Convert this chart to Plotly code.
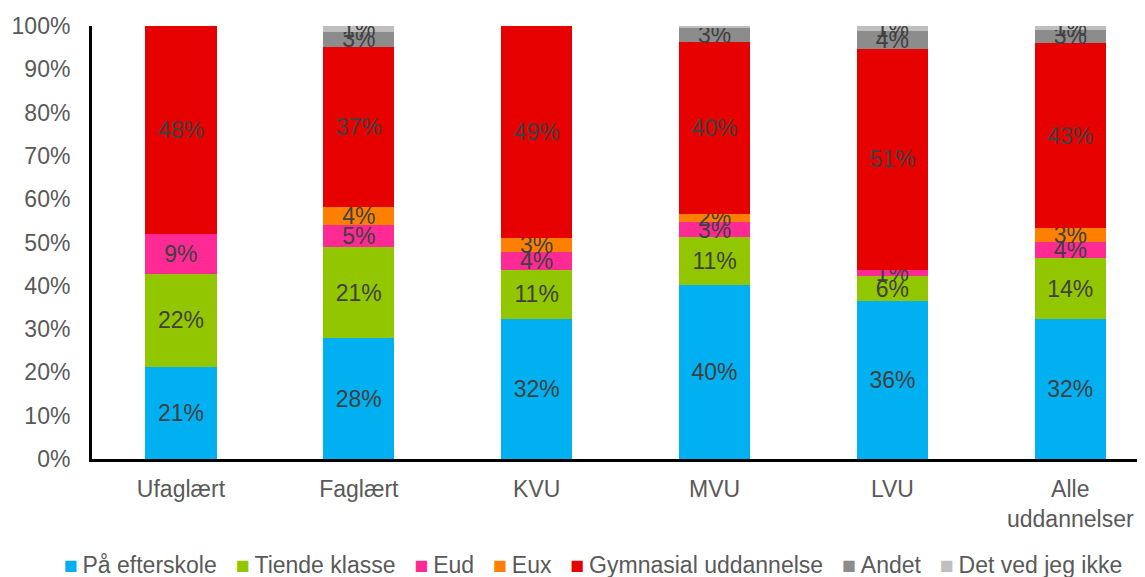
import plotly.graph_objects as go

categories = ["Ufaglært", "Faglært", "KVU", "MVU", "LVU", "Alle<br>uddannelser"]

series_names = [
    "På efterskole",
    "Tiende klasse",
    "Eud",
    "Eux",
    "Gymnasial uddannelse",
    "Andet",
    "Det ved jeg ikke",
]
series_colors = ["#00b0f0", "#92c700", "#ff2a93", "#ff8000", "#e60000", "#8c8c8c", "#bfbfbf"]

efterskole = [21.2, 27.9, 32.3, 40.2, 36.4, 32.3]
tiende = [21.6, 21.1, 11.4, 11.1, 5.9, 14.1]
eud = [9.2, 5.0, 4.1, 3.4, 1.4, 3.7]
eux = [0.0, 4.2, 3.2, 1.9, 0.0, 3.2]
gymnasial = [48.0, 37.0, 49.0, 39.7, 51.1, 42.8]
andet = [0.0, 3.4, 0.0, 3.4, 4.0, 3.0]
ved_ikke = [0.0, 1.4, 0.0, 0.3, 1.2, 0.9]

series_values = [efterskole, tiende, eud, eux, gymnasial, andet, ved_ikke]

y_ticks = [0, 10, 20, 30, 40, 50, 60, 70, 80, 90, 100]

FONT = "Liberation Sans, Arial"


def label(v):
    r = round(v)
    return f"{r}%" if r >= 1 else ""


fig = go.Figure()
for name, color, vals in zip(series_names, series_colors, series_values):
    fig.add_trace(
        go.Bar(
            x=categories,
            y=vals,
            name=name,
            marker=dict(color=color, line=dict(width=0)),
            text=[label(v) for v in vals],
            textposition="inside",
            insidetextanchor="middle",
            textangle=0,
            textfont=dict(family=FONT, size=23, color="#404040"),
            hoverinfo="skip",
            showlegend=False,
        )
    )

# legend drawn as one line of text with coloured squares, Excel style
legend_text = "&nbsp;&nbsp;&nbsp;".join(
    f"<span style='color:{c}'>■</span>\u2009{n}" for n, c in zip(series_names, series_colors)
)
fig.add_annotation(
    text=legend_text,
    xref="paper",
    yref="paper",
    x=0.476,
    y=-0.245,
    xanchor="center",
    yanchor="middle",
    showarrow=False,
    font=dict(family=FONT, size=23, color="#595959"),
)

# page body has an 8px margin, so the figure is 8px smaller than the window
fig.update_layout(
    barmode="stack",
    bargap=0.6,
    width=1137,
    height=569,
    margin=dict(l=84, r=0, t=18, b=118, autoexpand=False),
    plot_bgcolor="white",
    paper_bgcolor="white",
    font=dict(family=FONT, size=23, color="#595959"),
    uniformtext=dict(minsize=23, mode="show"),
    showlegend=False,
    xaxis=dict(
        range=[-0.5, 5.42],
        showline=True,
        linecolor="black",
        linewidth=3,
        ticks="",
        showgrid=False,
        ticklabelstandoff=7,
        tickfont=dict(size=23, color="#595959"),
    ),
    yaxis=dict(
        range=[0, 100],
        tickvals=y_ticks,
        ticktext=[f"{t}%" for t in y_ticks],
        showline=True,
        linecolor="black",
        linewidth=3,
        ticks="",
        showgrid=False,
        zeroline=False,
        ticklabelstandoff=14,
        tickfont=dict(size=23, color="#595959"),
    ),
)

fig.write_html("out.html")
